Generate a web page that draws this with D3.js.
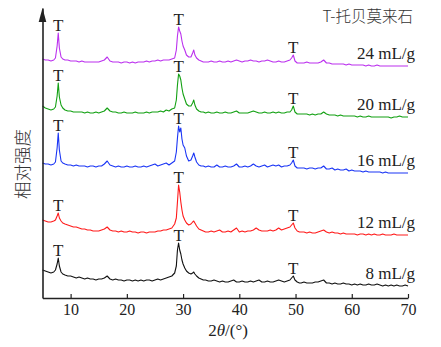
<!DOCTYPE html>
<html><head><meta charset="utf-8">
<script src="https://cdn.jsdelivr.net/npm/d3@7/dist/d3.min.js"></script>
<style>
html,body{margin:0;padding:0;background:#fff;}
svg{display:block;}
</style>
</head><body>
<svg id="chart" width="441" height="347"></svg>
<script>
// 2θ grid (degrees)
const twoTheta = [
 5,5.5,6,6.5,7,7.3,7.6,7.8,8.0,8.3,8.6,9,
 9.5,10,10.5,11,11.5,12,12.5,13,13.5,14,14.5,15,15.5,
 16,16.5,17,
 17.5,18,18.5,19,19.5,20,20.5,21,21.5,22,22.5,23,23.5,24,24.5,25,25.5,26,26.5,27,27.5,28,
 28.5,28.8,29.0,29.2,29.4,29.6,29.8,30.0,30.3,30.6,31.0,31.4,31.7,31.9,32.1,32.4,32.8,33.2,33.6,
 34,34.5,35,35.5,36,36.5,37,37.5,38,38.5,39,39.5,40,40.5,41,41.5,42,42.5,43,43.5,44,44.5,45,45.5,46,46.5,47,47.5,48,48.5,49,
 49.3,49.6,49.9,50.3,50.7,
 51,51.5,52,52.5,53,53.5,54,54.5,55,55.5,56,56.5,57,57.5,58,58.5,59,59.5,60,60.5,61,61.5,62,62.5,63,63.5,64,64.5,65,65.5,66,66.5,67,67.5,68,68.5,69,69.5,70
];

const seriesNames = ["8 mL/g","12 mL/g","16 mL/g","20 mL/g","24 mL/g"];
const seriesColors = ["#111111","#ff1a1a","#1a35f5","#12a012","#bb30ee"];
const offsets = [8, 56, 122, 176, 226];

const int8 = [
 20,19,18,17,18,20,26,32,24,18,16,15,
 14,14,13,12,13,12,11,12,11,11,10,11,11,
 12,14,11,
 10,11,10,10,9,10,10,9,10,9,10,9,10,10,9,10,11,10,11,12,13,14,
 17,24,40,47,40,36,30,26,22,19,17,16,17,18,16,14,12,11,10,
 10,9,9,10,9,8,9,8,8,9,10,8,8,9,8,8,9,8,9,10,8,8,9,8,8,9,10,9,8,9,10,
 12,14,10,8,7,
 7,8,7,7,7,8,8,9,10,7,7,6,7,6,6,7,6,6,5,6,5,6,5,5,6,5,5,6,5,4,5,4,5,4,5,4,4,5,4
];
const int12 = [
 22,21,20,20,21,22,26,29,24,21,19,18,
 17,16,15,15,14,13,13,12,12,11,11,11,12,
 13,15,12,
 11,11,10,11,10,10,11,10,10,9,10,10,9,10,10,10,11,11,12,12,13,14,
 18,24,40,57,50,40,32,26,22,19,17,18,20,21,19,16,13,12,11,
 10,10,11,10,11,12,10,10,11,10,12,14,10,11,10,11,11,12,14,12,11,11,11,12,11,12,14,12,13,14,15,
 17,19,14,11,10,
 10,10,9,10,9,9,10,11,12,10,9,10,9,9,8,9,8,8,8,8,7,8,8,7,8,7,8,7,7,8,7,7,7,8,7,7,7,7,7
];
const int16 = [
 13,12,12,11,12,14,28,43,26,15,13,12,
 11,11,10,11,10,10,10,9,10,10,9,10,10,
 12,15,11,
 10,9,10,9,9,10,9,9,10,9,9,10,9,10,11,12,10,11,12,13,11,13,
 15,24,38,50,44,48,37,31,28,20,15,16,20,23,19,14,11,10,10,
 9,10,9,9,11,9,9,10,9,9,10,12,9,9,10,9,10,12,10,9,10,11,9,10,11,10,11,9,10,10,11,
 13,16,10,8,8,
 8,8,7,8,8,7,8,8,10,7,7,8,6,7,6,6,7,5,6,5,5,5,4,5,4,4,4,4,4,3,4,3,3,3,3,3,3,3,3
];
const int20 = [
 16,14,13,12,13,15,26,39,25,17,14,12,
 11,11,10,10,10,10,9,10,9,9,10,9,10,
 11,14,11,
 10,10,9,9,10,9,9,9,10,9,9,9,10,9,10,10,10,11,10,12,11,13,
 14,22,37,48,46,42,34,28,23,18,16,16,19,22,17,13,11,10,10,
 9,10,9,9,10,9,9,10,9,9,10,11,9,9,9,9,10,11,10,9,9,10,9,9,10,9,10,9,9,10,10,
 12,16,10,8,8,
 8,8,8,7,8,7,8,8,10,8,7,7,7,6,7,6,6,6,6,6,5,6,5,5,6,5,5,5,5,5,5,5,4,5,5,6,5,5,5
];
const int24 = [
 13,12,12,11,12,14,26,39,24,15,13,12,
 12,11,11,11,10,11,10,10,10,10,10,10,11,
 12,15,11,
 10,10,10,9,10,10,9,10,9,10,10,10,11,10,11,11,12,11,12,12,12,13,
 14,22,36,45,41,38,31,26,22,17,15,15,19,22,17,14,12,11,10,
 10,10,11,10,10,11,10,10,11,10,11,12,11,10,11,11,12,11,11,10,11,11,12,11,10,10,11,10,10,11,12,
 14,17,11,9,9,
 9,9,10,9,9,9,9,10,12,9,9,8,8,8,8,8,7,8,7,7,7,7,7,6,7,6,6,7,6,6,6,6,6,6,6,6,6,6,6
];
const intensities = [int8, int12, int16, int20, int24];

const tPeaks = [7.8, 29.2, 49.6];
const xTicks = [10,20,30,40,50,60,70];
const legendText = "T-托贝莫来石";
const xLabelMain = "2", xLabelTheta = "θ", xLabelTail = "/(°)";
const yLabel = "相对强度";

const svg = d3.select("#chart");
const x = d3.scaleLinear().domain([5,70]).range([42.5,408]);
const y = d3.scaleLinear().domain([0,290]).range([298,8]);
const serif = "'Liberation Serif','Times New Roman',serif";

// curves
const line = d3.line().x(d=>x(d[0])).y(d=>y(d[1]));
intensities.forEach((arr,i)=>{
  const pts = twoTheta.map((t,k)=>[t, arr[k] + offsets[i]]);
  svg.append("path").datum(pts)
    .attr("d", line).attr("fill","none")
    .attr("stroke", seriesColors[i]).attr("stroke-width",1.1)
    .attr("stroke-linejoin","round");

  // T labels
  tPeaks.forEach(p=>{
    let mx = -Infinity;
    twoTheta.forEach((t,k)=>{ if (Math.abs(t-p)<=0.45) mx = Math.max(mx, arr[k]); });
    svg.append("text").attr("x", x(p)).attr("y", y(mx+offsets[i]) - 2)
      .attr("text-anchor","middle").attr("font-family",serif)
      .attr("font-size",17).attr("fill","#222").text("T");
  });

  // series label
  const last = arr[arr.length-1] + offsets[i];
  svg.append("text").attr("x", 415).attr("y", y(last) - 7)
    .attr("text-anchor","end").attr("font-family",serif)
    .attr("font-size",17).attr("fill","#222").text(seriesNames[i]);
});

// x axis
const xAxis = d3.axisBottom(x).tickValues(xTicks).tickFormat(d3.format("d"))
  .tickSizeInner(-4).tickSizeOuter(0).tickPadding(6);
const gx = svg.append("g").attr("transform","translate(0,298)").call(xAxis);
gx.select(".domain").attr("stroke","#222").attr("stroke-width",1.6);
gx.selectAll(".tick line").attr("stroke","#222").attr("stroke-width",1.2);
gx.selectAll(".tick text").attr("font-family",serif).attr("font-size",16).attr("fill","#222");

// y axis
const yAxis = d3.axisLeft(y).tickValues([]).tickSizeOuter(0);
const gy = svg.append("g").attr("transform",`translate(${x(5)},0)`).call(yAxis);
gy.select(".domain").attr("stroke","#222").attr("stroke-width",1.6);
// arrow head
const ax = x(5), ay = y(290);
svg.append("path").attr("d", `M${ax},${ay} L${ax-3.8},${ay+14} L${ax+3.8},${ay+14} Z`).attr("fill","#222");

// legend
svg.append("text").attr("x",413).attr("y",22).attr("text-anchor","end")
  .attr("font-family","'Noto Sans CJK SC','Liberation Serif',serif").attr("font-size",15.5)
  .attr("font-weight",300).attr("fill","#333").text(legendText);

// x label
const xl = svg.append("text").attr("x",228).attr("y",336).attr("text-anchor","middle")
  .attr("font-family",serif).attr("font-size",17).attr("fill","#222");
xl.append("tspan").text(xLabelMain);
xl.append("tspan").attr("font-style","italic").text(xLabelTheta);
xl.append("tspan").text(xLabelTail);

// y label
svg.append("text").attr("transform","translate(29,164) rotate(-90)")
  .attr("text-anchor","middle").attr("font-family","'Noto Sans CJK SC',sans-serif")
  .attr("font-size",17.5).attr("font-weight",300).attr("fill","#333").text(yLabel);
</script>
</body></html>
